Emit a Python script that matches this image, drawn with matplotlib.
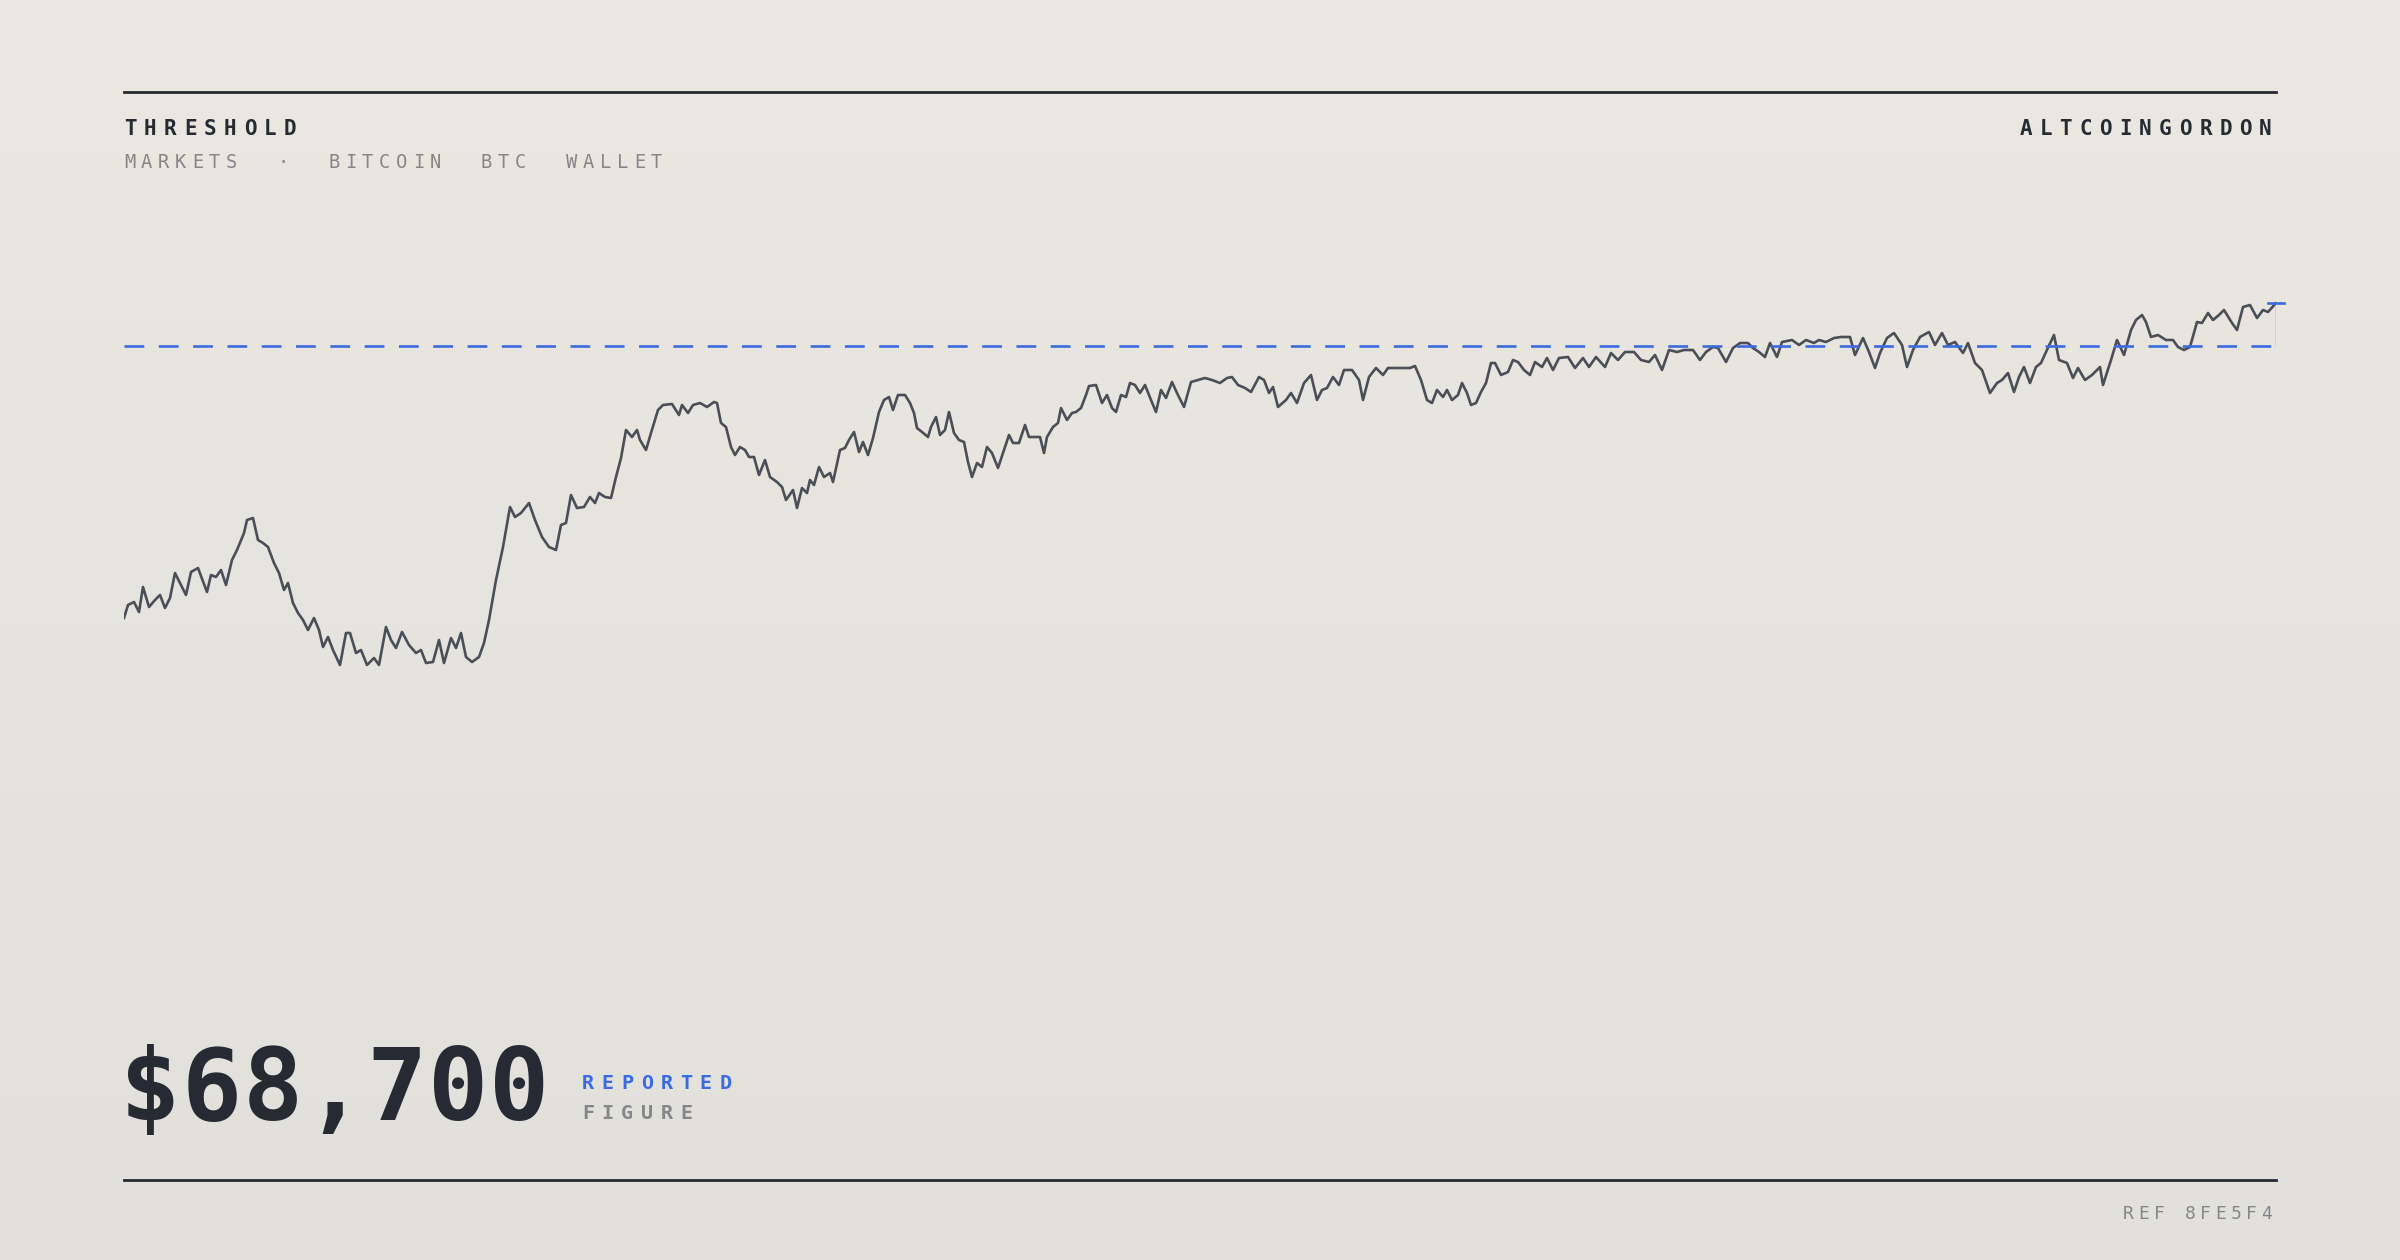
import numpy as np
import matplotlib
matplotlib.use("Agg")
import matplotlib.pyplot as plt

# series: day index and index level
days = [0, 4, 10, 15, 19, 25, 31, 36, 41, 46, 51, 57, 62, 67, 74, 83, 87, 92, 97, 102,
        108, 113, 120, 123, 129, 134, 139, 144, 150, 155, 160, 164, 169, 174, 179, 184, 190, 195, 199, 204,
        209, 216, 222, 226, 232, 237, 243, 250, 255, 262, 267, 272, 278, 285, 292, 297, 302, 309, 315, 320,
        327, 332, 337, 342, 348, 355, 360, 365, 372, 379, 386, 391, 397, 405, 411, 418, 425, 432, 437, 442,
        447, 453, 460, 466, 471, 475, 481, 487, 492, 497, 502, 508, 513, 516, 522, 527, 534, 539, 548, 555,
        558, 564, 569, 576, 583, 590, 593, 597, 602, 607, 611, 616, 621, 625, 630, 635, 641, 646, 653, 658,
        662, 669, 673, 678, 683, 686, 690, 695, 700, 706, 709, 716, 721, 725, 730, 735, 739, 744, 749, 755,
        760, 765, 769, 774, 781, 786, 790, 793, 798, 804, 807, 812, 816, 821, 825, 830, 835, 840, 844, 848,
        853, 858, 863, 868, 874, 880, 885, 889, 895, 901, 905, 910, 916, 920, 923, 929, 934, 937, 943, 948,
        952, 957, 962, 965, 972, 978, 983, 988, 992, 997, 1002, 1006, 1011, 1016, 1021, 1027, 1032, 1037, 1042, 1048,
        1053, 1060, 1067, 1074, 1081, 1088, 1096, 1103, 1108, 1114, 1121, 1127, 1135, 1140, 1145, 1149, 1154, 1162, 1167, 1173,
        1180, 1187, 1193, 1198, 1203, 1209, 1215, 1220, 1228, 1235, 1239, 1245, 1252, 1259, 1264, 1275, 1286, 1291, 1297, 1303,
        1308, 1313, 1319, 1323, 1328, 1334, 1338, 1343, 1347, 1352, 1357, 1362, 1367, 1371, 1377, 1384, 1389, 1394, 1400, 1406,
        1411, 1418, 1423, 1429, 1435, 1444, 1451, 1459, 1465, 1472, 1481, 1487, 1494, 1501, 1510, 1517, 1525, 1531, 1538, 1545,
        1553, 1560, 1569, 1576, 1582, 1589, 1594, 1602, 1609, 1616, 1624, 1629, 1635, 1641, 1646, 1653, 1658, 1668, 1675, 1682,
        1690, 1695, 1702, 1710, 1717, 1726, 1731, 1739, 1745, 1751, 1756, 1763, 1770, 1778, 1783, 1789, 1796, 1805, 1811, 1818,
        1824, 1831, 1839, 1844, 1851, 1858, 1866, 1873, 1878, 1884, 1890, 1895, 1900, 1906, 1912, 1917, 1922, 1930, 1935, 1943,
        1949, 1954, 1961, 1968, 1976, 1979, 1987, 1993, 2000, 2007, 2012, 2018, 2022, 2027, 2034, 2042, 2049, 2054, 2060, 2066,
        2073, 2078, 2084, 2089, 2095, 2100, 2108, 2113, 2119, 2126, 2133, 2139, 2144, 2152]
levels = [382, 395, 398, 388, 413, 393, 400, 405, 392, 402, 427, 415, 405, 428, 432, 408, 425, 423, 430, 415,
          440, 450, 467, 480, 482, 460, 457, 453, 437, 427, 410, 417, 397, 387, 380, 370, 382, 370, 353, 363,
          350, 335, 367, 367, 347, 350, 335, 342, 335, 373, 360, 352, 368, 355, 347, 350, 337, 338, 360, 337,
          362, 352, 367, 343, 338, 343, 357, 380, 420, 453, 493, 483, 487, 497, 480, 463, 453, 450, 475, 477,
          505, 492, 493, 503, 497, 507, 503, 502, 523, 542, 570, 563, 570, 560, 550, 567, 590, 595, 596, 585,
          595, 587, 595, 597, 593, 598, 597, 577, 573, 553, 545, 553, 550, 543, 543, 525, 540, 523, 518, 513,
          500, 510, 492, 512, 507, 520, 515, 533, 523, 527, 518, 550, 552, 560, 568, 548, 558, 545, 562, 588,
          600, 603, 590, 605, 605, 597, 587, 572, 568, 563, 573, 583, 565, 570, 588, 567, 560, 558, 538, 523,
          537, 533, 553, 547, 532, 550, 565, 557, 557, 575, 563, 563, 563, 547, 563, 573, 577, 592, 580, 587,
          588, 592, 605, 614, 615, 597, 605, 592, 588, 605, 603, 617, 615, 607, 615, 600, 588, 610, 602, 618,
          607, 593, 618, 620, 622, 620, 617, 622, 623, 615, 612, 608, 623, 620, 607, 613, 593, 600, 607, 597,
          617, 625, 600, 610, 612, 623, 615, 630, 630, 620, 600, 623, 632, 625, 632, 632, 632, 634, 620, 600,
          597, 610, 603, 610, 600, 605, 617, 607, 595, 597, 608, 617, 637, 637, 625, 628, 640, 638, 630, 625,
          638, 633, 642, 630, 642, 643, 632, 642, 633, 643, 633, 647, 640, 648, 648, 640, 638, 645, 630, 650,
          648, 650, 650, 640, 648, 653, 652, 638, 652, 657, 657, 652, 648, 643, 657, 643, 658, 660, 655, 660,
          657, 660, 658, 662, 663, 663, 645, 662, 648, 632, 647, 662, 667, 655, 633, 650, 663, 668, 655, 667,
          655, 658, 647, 657, 637, 630, 607, 617, 620, 627, 608, 623, 633, 617, 633, 637, 648, 665, 640, 637,
          622, 632, 620, 625, 633, 615, 640, 660, 645, 670, 680, 685, 678, 663, 665, 660, 660, 653, 650, 653,
          678, 677, 687, 680, 685, 690, 677, 670, 693, 695, 682, 690, 688, 697]
threshold_level = 654
value_label = "$68,700"

BG_TOP = "#ebe8e1"
BG_BOT = "#e1e0db"
INK = "#262a33"
GRAY = "#85868a"
BLUE = "#3a6be0"
LINE = "#4a4e57"

W, H = 2400, 1260
fig = plt.figure(figsize=(24, 12.6), dpi=100)

bg = fig.add_axes([0, 0, 1, 1])
grad = np.linspace(0, 1, 256).reshape(-1, 1)
cmap = matplotlib.colors.LinearSegmentedColormap.from_list("bg", [BG_TOP, BG_BOT])
bg.imshow(grad, aspect="auto", cmap=cmap, extent=[0, 1, 0, 1], origin="upper")
bg.set_xlim(0, 1)
bg.set_ylim(0, 1)
bg.axis("off")


def px(x, y):
    # pixel from top-left -> figure fraction
    return x / W, 1 - y / H


def spaced(x, y, text, pitch, size, color, weight="normal", align="left"):
    if align == "right":
        x = x - pitch * (len(text) - 1) - size * 0.85
    for i, ch in enumerate(text):
        if ch == " ":
            continue
        fx, fy = px(x + i * pitch, y)
        fig.text(fx, fy, ch, fontsize=size, color=color, fontweight=weight,
                 family="DejaVu Sans Mono", ha="left", va="baseline")


# rules
for yy in (92, 1180):
    fig.add_artist(plt.Line2D([124 / W, 2276 / W], [1 - yy / H] * 2, color=INK, lw=2))

spaced(124, 135, "THRESHOLD", 20, 15, INK, "bold")
spaced(124, 168, "MARKETS  ·  BITCOIN  BTC  WALLET", 17.0, 13.5, GRAY)
spaced(2272, 135, "ALTCOINGORDON", 20.0, 15, INK, "bold", align="right")
spaced(2272, 1219, "REF 8FE5F4", 15.3, 13, GRAY, align="right")

spaced(120, 1120, value_label, 61.5, 72, INK, "bold")
spaced(582, 1089, "REPORTED", 19.6, 14.5, BLUE, "bold")
spaced(582, 1119, "FIGURE", 19.6, 14.5, GRAY, "bold")

# chart
ax = fig.add_axes([124 / W, 0, (2276 - 124) / W, 1])
ax.set_xlim(0, 2152)
ax.set_ylim(-260, 1000)
ax.axis("off")
ax.plot(days, levels, color=LINE, lw=1.9, solid_joinstyle="round")
ax.plot([0, 2160], [threshold_level] * 2, color=BLUE, lw=1.9, dashes=(7.5, 5.5), clip_on=False)
ax.plot([days[-1]] * 2, [threshold_level, levels[-1]], color=BLUE, lw=1.0, alpha=0.8)
ax.plot([days[-1] - 8, days[-1] + 8], [levels[-1]] * 2, color=BLUE, lw=1.9, clip_on=False)

fig.savefig("out.png", dpi=100)
